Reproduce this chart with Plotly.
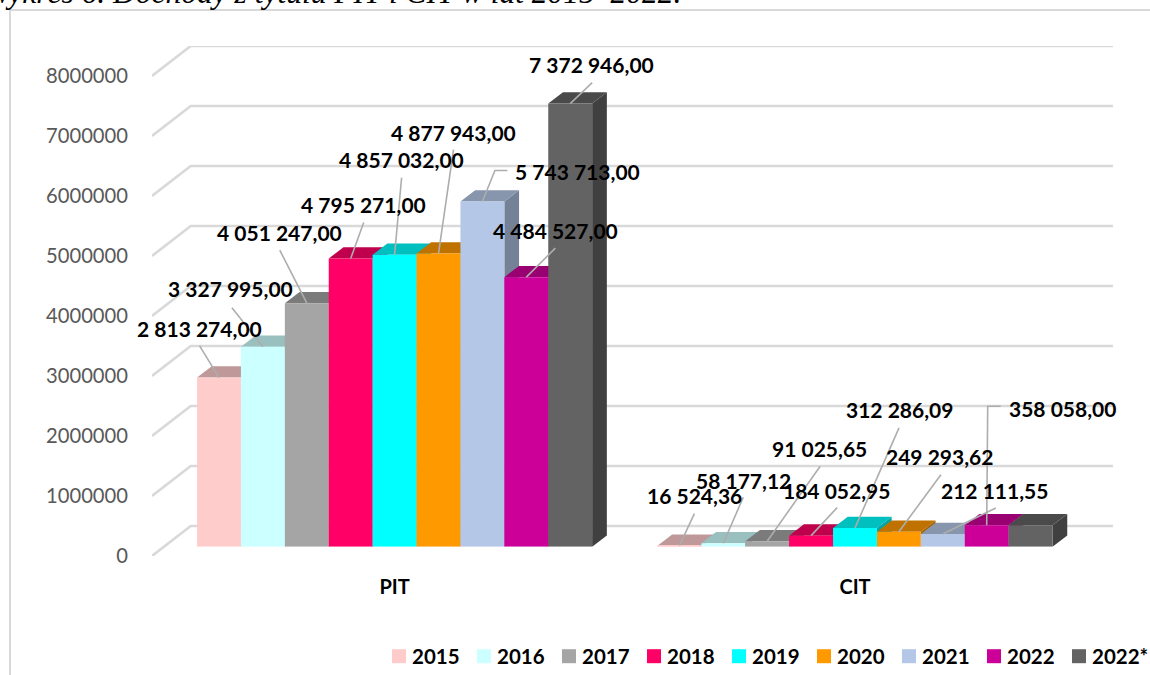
import plotly.graph_objects as go

# ---------- data ----------
CATEGORIES = ["PIT", "CIT"]
YEARS = ["2015", "2016", "2017", "2018", "2019", "2020", "2021", "2022", "2022*"]
PIT = [2813274.00, 3327995.00, 4051247.00, 4795271.00, 4857032.00, 4877943.00, 5743713.00, 4484527.00, 7372946.00]
CIT = [16524.36, 58177.12, 91025.65, 184052.95, 312286.09, 249293.62, 212111.55, 358058.00, 358058.00]
PIT_LABELS = ["2 813 274,00", "3 327 995,00", "4 051 247,00", "4 795 271,00", "4 857 032,00",
              "4 877 943,00", "5 743 713,00", "4 484 527,00", "7 372 946,00"]
CIT_LABELS = ["16 524,36", "58 177,12", "91 025,65", "184 052,95", "312 286,09",
              "249 293,62", "212 111,55", "358 058,00", None]
AXIS_TICKS = [0, 1000000, 2000000, 3000000, 4000000, 5000000, 6000000, 7000000, 8000000]
TITLE = "Wykres 6. Dochody z tytułu PIT i CIT w lat 2015–2022."

# ---------- styles ----------
COLORS = ["#FFCCCC", "#CCFFFF", "#A5A5A5", "#FF0066", "#00FFFF", "#FF9900", "#B4C7E7", "#CC0099", "#636363"]
W, H = 1150, 675
FONT = "Lato, sans-serif"
GRID = "#D9D9D9"
LEADER = "#ADADAD"
LABEL_SIZE = 21

# pixel layout of the pseudo-3D scene
WALL_L, WALL_R, WALL_B, WALL_T = 152, 1113, 556, 46
WALL_DX = 38.7
WALL_PX_PER_VALUE = 60e-6
BARS_L, BARS_R, BARS_B = 164.4, 1085.2, 546.7
BARS_PX_PER_VALUE = 60.1e-6
BARS_T = BARS_B - 8000000 * BARS_PX_PER_VALUE
PX_PER_CAT = (BARS_R - BARS_L) / 2
BAR_W = 43.9 / PX_PER_CAT
SIDE_DX = 14.7 / PX_PER_CAT
SIDE_DY = 11.3 / BARS_PX_PER_VALUE
LEGEND_TEXT_X, LEGEND_STEP, LEGEND_Y, SWATCH, SWATCH_GAP = 411, 85.0, 656.2, 14, 5

# offsets (px) from each bar's top-centre: label centre, leader path
PIT_LABEL_OFF = [(-19, -49), (-32, -58), (-27, -71), (13, -54), (7, -95), (15, -121), (95, -30), (29, -47), (21, -39)]
CIT_LABEL_OFF = [(15, -50), (20, -63), (52, -93), (25, -45), (44, -118), (41, -75), (52, -43), (76, -117), None]
PIT_LEADER = [[(-19.5, -32)], [(-31, -39)], [(-27, -53)], [(13, -36)], [(7, -77)], [(15, -104)],
              [(12.5, -31), (25, -31)], [(29, -29)], [(22, -21)]]
CIT_LEADER = [[(15, -32)], [(20, -46)], [(53, -75)], [(26, -28)], [(44, -100)], [(42, -57)], [(53, -26)],
              [(1, -119), (14, -119)], None]


def fx(px):
    return px / W


def fy(py):
    return 1 - py / H


def shade(hex_colour, factor):
    r, g, b = (int(hex_colour[i:i + 2], 16) for i in (1, 3, 5))
    return "rgb({},{},{})".format(int(r * factor), int(g * factor), int(b * factor))


fig = go.Figure()

# back wall: each gridline runs up the floor then along the wall
for v in AXIS_TICKS:
    back = v + (WALL_B - WALL_T - 8000000 * WALL_PX_PER_VALUE) / WALL_PX_PER_VALUE
    fig.add_trace(go.Scatter(x=[0, WALL_DX, WALL_R - WALL_L], y=[v, back, back], mode="lines",
                             line=dict(color=GRID, width=2.6), showlegend=False, hoverinfo="skip",
                             cliponaxis=False, xaxis="x", yaxis="y"))

# front faces
for i, year in enumerate(YEARS):
    fig.add_trace(go.Bar(name=year, x=[0, 1], y=[PIT[i], CIT[i]], marker=dict(color=COLORS[i], line=dict(width=0)),
                         showlegend=False, xaxis="x2", yaxis="y2"))

# top and side faces, derived from the values
shapes = []
for i in range(len(YEARS)):
    for c, series in enumerate((PIT, CIT)):
        v = series[i]
        x0 = c + (i - 4.5) * BAR_W
        x1 = x0 + BAR_W
        side = f"M{x1},0 L{x1 + SIDE_DX},{SIDE_DY} L{x1 + SIDE_DX},{v + SIDE_DY} L{x1},{v} Z"
        top = f"M{x0},{v} L{x1},{v} L{x1 + SIDE_DX},{v + SIDE_DY} L{x0 + SIDE_DX},{v + SIDE_DY} Z"
        shapes.append(dict(type="path", path=side, xref="x2", yref="y2", layer="between",
                           fillcolor=shade(COLORS[i], 0.65), line=dict(width=0)))
        shapes.append(dict(type="path", path=top, xref="x2", yref="y2", layer="between",
                           fillcolor=shade(COLORS[i], 0.75), line=dict(width=0)))

# frame
shapes.append(dict(type="line", xref="paper", yref="paper", x0=fx(10), x1=fx(10), y0=0, y1=fy(10),
                   line=dict(color=GRID, width=2), layer="below"))
shapes.append(dict(type="line", xref="paper", yref="paper", x0=fx(9), x1=1, y0=fy(10), y1=fy(10),
                   line=dict(color=GRID, width=2), layer="below"))

# labels and leaders
annotations = [dict(text="<i>" + TITLE + "</i>", xref="paper", yref="paper", x=fx(684), y=fy(12), xanchor="right",
                    yanchor="bottom", showarrow=False, font=dict(family="Liberation Serif, serif", size=31.5, color="#000000"))]
for c, (series, labels, label_off, leaders) in enumerate(
        ((PIT, PIT_LABELS, PIT_LABEL_OFF, PIT_LEADER), (CIT, CIT_LABELS, CIT_LABEL_OFF, CIT_LEADER))):
    for i, v in enumerate(series):
        if labels[i] is None:
            continue
        xc = c + (i - 4) * BAR_W
        xs = [xc] + [xc + dx / PX_PER_CAT for dx, dy in leaders[i]]
        ys = [v] + [v - dy / BARS_PX_PER_VALUE for dx, dy in leaders[i]]
        fig.add_trace(go.Scatter(x=xs, y=ys, mode="lines", line=dict(color=LEADER, width=1.6),
                                 showlegend=False, hoverinfo="skip", cliponaxis=False, xaxis="x2", yaxis="y2"))
        annotations.append(dict(text="<b>" + labels[i] + "</b>", x=xc, y=v, xref="x2", yref="y2",
                                xshift=label_off[i][0], yshift=-label_off[i][1], showarrow=False,
                                xanchor="center", yanchor="middle",
                                font=dict(family=FONT, size=LABEL_SIZE, color="#000000")))

# legend row
for i, year in enumerate(YEARS):
    tx = LEGEND_TEXT_X + i * LEGEND_STEP
    shapes.append(dict(type="rect", xref="paper", yref="paper", x0=fx(tx - SWATCH_GAP - SWATCH), x1=fx(tx - SWATCH_GAP),
                       y0=fy(LEGEND_Y + SWATCH / 2), y1=fy(LEGEND_Y - SWATCH / 2), fillcolor=COLORS[i],
                       line=dict(width=0), layer="above"))
    annotations.append(dict(text="<b>" + year + "</b>", xref="paper", yref="paper", x=fx(tx), y=fy(LEGEND_Y),
                            xanchor="left", yanchor="middle", showarrow=False, borderpad=0,
                            font=dict(family=FONT, size=20.5, color="#000000")))

fig.update_layout(
    width=W, height=H, autosize=False, margin=dict(l=0, r=0, t=0, b=0, pad=0),
    paper_bgcolor="#FFFFFF", plot_bgcolor="rgba(0,0,0,0)", showlegend=False,
    barmode="group", bargap=1 - 9 * BAR_W, bargroupgap=0,
    xaxis=dict(domain=[fx(WALL_L), fx(WALL_R)], range=[0, WALL_R - WALL_L], visible=False, fixedrange=True, automargin=False),
    yaxis=dict(domain=[fy(WALL_B), fy(WALL_T)], range=[0, (WALL_B - WALL_T) / WALL_PX_PER_VALUE],
               tickmode="array", tickvals=AXIS_TICKS, ticktext=[str(t) for t in AXIS_TICKS], automargin=False,
               showgrid=False, zeroline=False, showline=False, ticks="", ticklabelstandoff=23,
               tickfont=dict(family=FONT, size=20.2, color="#595959"), fixedrange=True),
    xaxis2=dict(domain=[fx(BARS_L), fx(BARS_R)], range=[-0.5, 1.5], anchor="y2", tickmode="array", tickvals=[0, 1],
                ticktext=["<b>" + c + "</b>" for c in CATEGORIES], showgrid=False, zeroline=False, showline=False,
                automargin=False, ticks="", ticklabelstandoff=26,
                tickfont=dict(family=FONT, size=20, color="#000000"), fixedrange=True),
    yaxis2=dict(domain=[fy(BARS_B), fy(BARS_T)], range=[0, 8000000], anchor="x2", visible=False, fixedrange=True, automargin=False),
    shapes=shapes, annotations=annotations,
)

fig.write_html("out.html", config=dict(displayModeBar=False),
               post_script="document.body.style.margin='0';document.body.style.overflow='hidden';")
